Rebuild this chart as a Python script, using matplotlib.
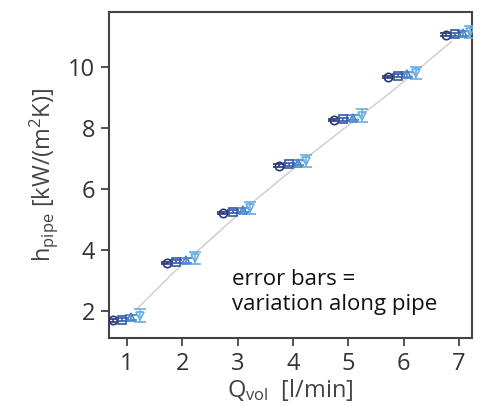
import matplotlib
matplotlib.use('Agg')
import matplotlib.pyplot as plt
import numpy as np

plt.rcParams['font.family'] = ['Open Sans', 'DejaVu Sans']
plt.rcParams['mathtext.default'] = 'regular'

# flow rates of the 4 measuring positions (slightly offset per series)
q_circle = [0.74, 1.72, 2.73, 3.75, 4.74, 5.72, 6.77]
q_square = [0.90, 1.89, 2.92, 3.92, 4.91, 5.89, 6.93]
q_tri = [1.07, 2.06, 3.10, 4.09, 5.08, 6.06, 7.08]
q_tri_dn = [1.24, 2.22, 3.23, 4.24, 5.24, 6.22, 7.20]

# heat transfer coefficient [kW/(m2K)]
h_circle = [1.68, 3.57, 5.21, 6.76, 8.26, 9.67, 11.05]
h_square = [1.70, 3.60, 5.25, 6.80, 8.28, 9.70, 11.07]
h_tri = [1.78, 3.65, 5.30, 6.85, 8.33, 9.75, 11.10]
h_tri_dn = [1.84, 3.72, 5.38, 6.92, 8.40, 9.80, 11.15]

# variation along pipe
err_circle = [0.04, 0.04, 0.04, 0.04, 0.04, 0.04, 0.04]
err_square = [0.05, 0.05, 0.05, 0.05, 0.05, 0.05, 0.05]
err_tri = [0.08, 0.08, 0.08, 0.08, 0.08, 0.08, 0.08]
err_tri_dn = [0.22, 0.20, 0.20, 0.20, 0.20, 0.20, 0.20]

# model curve (grey)
model_q = [1.18, 1.81, 3.10, 4.34, 5.76, 6.87]
model_h = [2.06, 3.20, 5.30, 7.15, 9.15, 10.83]

fig = plt.figure(figsize=(4.87, 4.08), dpi=100)
ax = fig.add_axes([0.224, 0.172, 0.745, 0.799])

ax.plot(model_q, model_h, color='#d0d0d0', lw=1.1, zorder=1)

series = [
    (q_circle, h_circle, err_circle, 'o', '#2a3675'),
    (q_square, h_square, err_square, 's', '#3459a8'),
    (q_tri, h_tri, err_tri, '^', '#4784cc'),
    (q_tri_dn, h_tri_dn, err_tri_dn, 'v', '#62aee6'),
]
for q, h, e, m, c in series:
    ax.errorbar(q, h, yerr=e, fmt=m, mfc='none', mec=c, ecolor=c,
                ms=6, mew=1.2, capsize=4, elinewidth=1.1, capthick=1.1, zorder=3)

ax.set_xlim(0.675, 7.235)
ax.set_ylim(1.11, 11.8)
ax.set_xticks([1, 2, 3, 4, 5, 6, 7])
ax.set_yticks([2, 4, 6, 8, 10])

for s in ax.spines.values():
    s.set_color('#444444')
    s.set_linewidth(1.5)
ax.tick_params(direction='out', length=6, width=1.3, color='#444444',
               labelsize=17, labelcolor='#333333', pad=4)

ax.set_xlabel('Q$_{vol}$  [l/min]', fontsize=17, color='#444444', labelpad=1)
ax.set_ylabel('h$_{pipe}$ [kW/(m$^2$K)]', fontsize=17, color='#444444', labelpad=6)

ax.text(0.34, 0.14, 'error bars =\nvariation along pipe', transform=ax.transAxes,
        fontsize=16, color='#111111', linespacing=1.25, va='center', ha='left')

fig.savefig('out.png', dpi=100)
